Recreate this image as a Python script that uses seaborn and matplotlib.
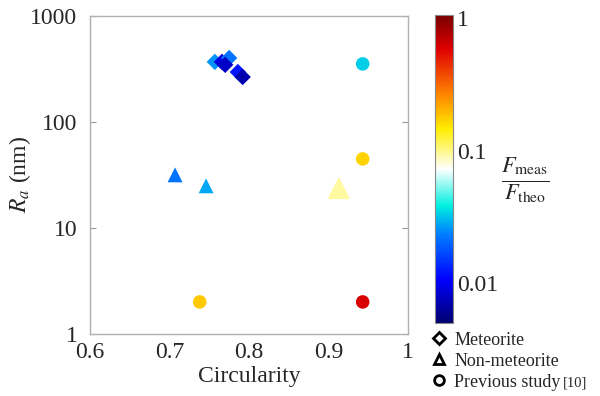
import numpy as np
import pandas as pd
import matplotlib
matplotlib.use("Agg")
import matplotlib.pyplot as plt
import seaborn as sns
from matplotlib.colors import LinearSegmentedColormap, LogNorm
from matplotlib.lines import Line2D

# data
met_circ = [0.757, 0.766, 0.775, 0.770, 0.786, 0.792]
met_ra = [368, 368, 400, 345, 295, 265]
met_f = [0.026, 0.009, 0.022, 0.008, 0.012, 0.007]

non_circ = [0.707, 0.746, 0.913]
non_ra = [31.6, 24.9, 23.8]
non_f = [0.022, 0.028, 0.095]
non_big = [False, False, True]

prev_circ = [0.943, 0.943, 0.738, 0.943]
prev_ra = [352, 44.7, 2.0, 2.0]
prev_f = [0.033, 0.17, 0.18, 0.6]

sns.set_style("white")
plt.rcParams['font.family'] = 'serif'
plt.rcParams['font.serif'] = ['Liberation Serif', 'DejaVu Serif']
plt.rcParams['mathtext.fontset'] = 'stix'

cmap = LinearSegmentedColormap.from_list("jetw", [
    (0.00, "#00006e"), (0.14, "#0000ff"), (0.29, "#0080ff"),
    (0.38, "#00f0e0"), (0.50, "#ffffff"), (0.63, "#ffee00"),
    (0.74, "#ff8800"), (0.89, "#e00000"), (1.00, "#7a0000")])
norm = LogNorm(vmin=0.005, vmax=1.05)

met = pd.DataFrame({'circ': met_circ, 'ra': met_ra, 'f': met_f})
non = pd.DataFrame({'circ': non_circ, 'ra': non_ra, 'f': non_f, 'big': non_big})
prev = pd.DataFrame({'circ': prev_circ, 'ra': prev_ra, 'f': prev_f})

fig = plt.figure(figsize=(6, 3.96), dpi=100)
ax = fig.add_axes([0.15, 0.157, 0.53, 0.803])

sns.scatterplot(data=met, x='circ', y='ra', hue='f', hue_norm=norm, palette=cmap,
                marker='D', s=70, linewidth=0, legend=False, ax=ax)
sns.scatterplot(data=non, x='circ', y='ra', hue='f', hue_norm=norm, palette=cmap,
                size='big', sizes={False: 115, True: 260}, marker='^',
                linewidth=0, legend=False, ax=ax)
sns.scatterplot(data=prev, x='circ', y='ra', hue='f', hue_norm=norm, palette=cmap,
                marker='o', s=95, linewidth=0, legend=False, ax=ax)

ax.set_yscale('log')
ax.set_xlim(0.6, 1.0)
ax.set_ylim(1, 1000)
ax.set_xticks([0.6, 0.7, 0.8, 0.9, 1.0])
ax.set_xticklabels(['0.6', '0.7', '0.8', '0.9', '1'])
ax.set_yticks([1, 10, 100, 1000])
ax.set_yticklabels(['1', '10', '100', '1000'])
ax.minorticks_off()
ax.tick_params(axis='x', length=0, labelsize=17, pad=6)
ax.tick_params(axis='y', direction='in', length=4, color='#999999',
               right=True, left=True, labelsize=17, pad=9)
for sp in ax.spines.values():
    sp.set_color('#b0b0b0')
    sp.set_linewidth(1)
ax.set_xlabel('Circularity', fontsize=17, labelpad=2)
ax.set_ylabel(r'$R_a$ (nm)', fontsize=17)
ax.yaxis.set_label_coords(-0.18, 0.5)

cax = fig.add_axes([0.725, 0.184, 0.03, 0.778])
sm = plt.cm.ScalarMappable(norm=norm, cmap=cmap)
cb = fig.colorbar(sm, cax=cax)
cb.set_ticks([0.01, 0.1, 1])
cb.set_ticklabels(['0.01', '0.1', '1'])
cax.tick_params(which='both', direction='in', color='#222222', labelsize=17,
                left=True, right=True)
cax.tick_params(which='major', length=5, pad=3)
cax.tick_params(which='minor', length=3)
cb.outline.set_edgecolor('#888888')
fig.text(0.875, 0.545, r'$\frac{F_{\mathrm{meas}}}{F_{\mathrm{theo}}}$',
         fontsize=23, ha='center', va='center')

handles = [
    Line2D([], [], marker='D', ls='', mfc='white', mec='black', mew=2, ms=6),
    Line2D([], [], marker='^', ls='', mfc='white', mec='black', mew=2, ms=7),
    Line2D([], [], marker='o', ls='', mfc='white', mec='black', mew=2, ms=7),
]
fig.legend(handles, ['Meteorite', 'Non-meteorite', 'Previous study'],
           loc='upper left', bbox_to_anchor=(0.7, 0.185), frameon=False,
           fontsize=13, handletextpad=0.3, labelspacing=0.22, borderpad=0,
           handlelength=1.1)
fig.text(0.938, 0.025, '[10]', fontsize=10.5)

fig.savefig('out.png', dpi=100)
